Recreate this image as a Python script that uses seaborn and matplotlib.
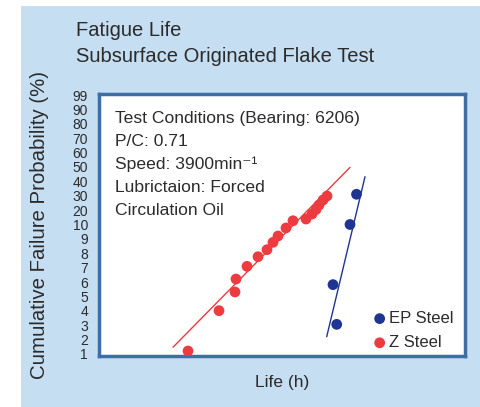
import matplotlib
matplotlib.use("Agg")
import matplotlib.pyplot as plt
import seaborn as sns
import pandas as pd
import numpy as np

# Y axis tick labels (probability %), evenly spaced on the chart
prob_labels = ["1", "2", "3", "4", "5", "6", "7", "8", "9", "10",
               "20", "30", "40", "50", "60", "70", "80", "90", "99"]

# Z Steel data (life in arbitrary units, probability position index)
z_life = [89, 120, 136, 137, 148, 159, 168, 174, 179, 187, 194, 207, 213, 217, 220, 224, 228]
z_prob = [0.21, 3.01, 4.31, 5.21, 6.09, 6.76, 7.25, 7.76, 8.20, 8.76, 9.26, 9.38, 9.73, 10.04, 10.35, 10.70, 10.98]

# EP Steel data
ep_life = [237.7, 234, 251, 257.5]
ep_prob = [2.06, 4.82, 9.00, 11.10]

# Fitted lines (endpoints)
z_fit_life = [74, 251]
z_fit_prob = [0.47, 12.97]
ep_fit_life = [227.7, 266]
ep_fit_prob = [1.20, 12.32]

RED = "#ec3c40"
BLUE = "#1e3591"
BORDER = "#3d6fa6"
BG = "#c6def2"
TXT = "#2b2b2b"

sns.set_theme(style="white")
plt.rcParams["font.family"] = ["Liberation Sans", "DejaVu Sans"]

fig = plt.figure(figsize=(4.81, 4.07), dpi=100)
fig.patch.set_facecolor("white")
# light blue panel
fig.patches.append(matplotlib.patches.Rectangle((21 / 481, 0), 1 - 21 / 481, 1 - 6 / 407,
                                                transform=fig.transFigure, facecolor=BG,
                                                edgecolor="none", zorder=-5))

ax = fig.add_axes([99 / 481, 1 - 356 / 407, 366 / 481, 262 / 407])
ax.set_zorder(2)
ax.set_facecolor("white")

df_z = pd.DataFrame({"life": z_life, "prob": z_prob})
df_ep = pd.DataFrame({"life": ep_life, "prob": ep_prob})

sns.lineplot(x=z_fit_life, y=z_fit_prob, ax=ax, color=RED, lw=1.0, zorder=2)
sns.lineplot(x=ep_fit_life, y=ep_fit_prob, ax=ax, color=BLUE, lw=1.0, zorder=2)
sns.scatterplot(data=df_ep, x="life", y="prob", ax=ax, color=BLUE, s=60,
                edgecolor="none", zorder=3, label="EP Steel")
sns.scatterplot(data=df_z, x="life", y="prob", ax=ax, color=RED, s=60,
                edgecolor="none", zorder=3, label="Z Steel")

ax.set_xlim(0, 366)
ax.set_ylim(-0.14, 18.07)
ax.set_xticks([])
ax.set_yticks(range(len(prob_labels)))
ax.set_yticklabels(prob_labels, fontsize=10, color=TXT,
                   fontfamily=["Liberation Sans Narrow", "Liberation Sans"])
ax.tick_params(axis="y", length=0, pad=8)
for s in ax.spines.values():
    s.set_color(BORDER)
    s.set_linewidth(2.5)
ax.set_xlabel("")
ax.set_ylabel("")

leg = ax.legend(loc="upper left", frameon=False, fontsize=12, handletextpad=0.15,
                handlelength=0.8, markerscale=1.0, borderaxespad=0, borderpad=0,
                labelspacing=0.55,
                bbox_to_anchor=((373 - 99) / 366, (356 - 311) / 262))
for t in leg.get_texts():
    t.set_color(TXT)

# Titles
fig.text(76 / 481, 1 - 30 / 407, "Fatigue Life", fontsize=14.5, color=TXT, va="center", ha="left")
fig.text(76 / 481, 1 - 57 / 407, "Subsurface Originated Flake Test", fontsize=14.5, color=TXT,
         va="center", ha="left")

# Conditions text
cond = ["Test Conditions (Bearing: 6206)", "P/C: 0.71", "Speed: 3900min\u207b\u00b9",
        "Lubrictaion: Forced", "Circulation Oil"]
for i, line in enumerate(cond):
    fig.text(115 / 481, 1 - (118 + 23 * i) / 407, line, fontsize=12.6, color=TXT,
             va="center", ha="left", zorder=5)

fig.text(40 / 481, 1 - 225 / 407, "Cumulative Failure Probability (%)", fontsize=14.7,
         color=TXT, rotation=90, va="center", ha="center")
fig.text(282 / 481, 1 - 383 / 407, "Life (h)", fontsize=12.5, color=TXT, va="center", ha="center")

fig.savefig("out.png", dpi=100, facecolor=fig.get_facecolor())
